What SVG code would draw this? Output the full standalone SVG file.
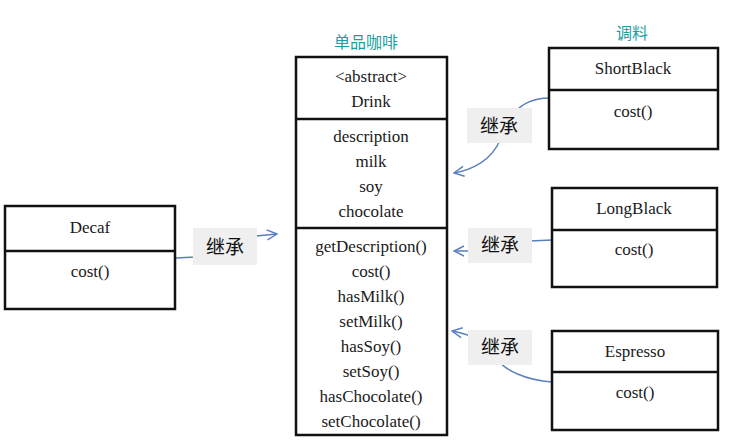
<svg xmlns="http://www.w3.org/2000/svg" width="732" height="444" viewBox="0 0 732 444">
<style>
.box{fill:#fff;stroke:#111;stroke-width:2.5}
.div{stroke:#111;stroke-width:2.5}
.t{font-family:'Liberation Serif','Times New Roman',serif;font-size:17px;fill:#1a1a1a;text-anchor:middle}
.title{font-family:'Noto Sans CJK SC','Noto Sans',sans-serif;font-size:16px;fill:#1aa0a0;text-anchor:middle}
.lblbg{fill:#efefef}
.lbl{font-family:'Noto Sans CJK SC','Noto Sans',sans-serif;font-size:19px;fill:#111;text-anchor:middle}
.conn{fill:none;stroke:#5a7fc0;stroke-width:1.4}
</style>
<defs>
<marker id="arr" viewBox="0 0 12 12" refX="11" refY="6" markerWidth="12" markerHeight="12" markerUnits="userSpaceOnUse" orient="auto">
<path d="M1,1 L11,6 L1,11" fill="none" stroke="#5a7fc0" stroke-width="1.4"/>
</marker>
</defs>
<rect width="732" height="444" fill="#fff"/>

<g id="connectors">
<path class="conn" d="M176,258 L195,257 L256,236 L277,234" marker-end="url(#arr)"/>
<path class="conn" d="M549,98 C515,98 505,125 500,140 C492,160 472,170 454,173" marker-end="url(#arr)"/>
<path class="conn" d="M552,240 L530,241 L468,251 L454,251" marker-end="url(#arr)"/>
<path class="conn" d="M552,382 C525,380 505,370 498,360 C490,345 475,335 452,331" marker-end="url(#arr)"/>
</g>

<g id="label-decaf">
<rect class="lblbg" x="193" y="228" width="64" height="37"/>
<text class="lbl" x="225" y="254">继承</text>
</g>
<g id="label-shortblack">
<rect class="lblbg" x="467" y="108" width="65" height="35"/>
<text class="lbl" x="499" y="133">继承</text>
</g>
<g id="label-longblack">
<rect class="lblbg" x="468" y="228" width="64" height="35"/>
<text class="lbl" x="500" y="252">继承</text>
</g>
<g id="label-espresso">
<rect class="lblbg" x="468" y="330" width="64" height="35"/>
<text class="lbl" x="500" y="354">继承</text>
</g>

<g id="title-single">
<text class="title" x="366" y="48">单品咖啡</text>
</g>
<g id="title-condiment">
<text class="title" x="632" y="39">调料</text>
</g>

<g id="drink">
<rect class="box" x="296" y="57" width="151" height="378"/>
<line class="div" x1="296" y1="119" x2="447" y2="119"/>
<line class="div" x1="296" y1="228" x2="447" y2="228"/>
<text class="t" x="371" y="82">&lt;abstract&gt;</text>
<text class="t" x="371" y="107">Drink</text>
<text class="t" x="371" y="142">description</text>
<text class="t" x="371" y="167">milk</text>
<text class="t" x="371" y="192">soy</text>
<text class="t" x="371" y="217">chocolate</text>
<text class="t" x="371" y="252">getDescription()</text>
<text class="t" x="371" y="277">cost()</text>
<text class="t" x="371" y="302">hasMilk()</text>
<text class="t" x="371" y="327">setMilk()</text>
<text class="t" x="371" y="352">hasSoy()</text>
<text class="t" x="371" y="377">setSoy()</text>
<text class="t" x="371" y="402">hasChocolate()</text>
<text class="t" x="371" y="427">setChocolate()</text>
</g>

<g id="decaf">
<rect class="box" x="5" y="206" width="170" height="103"/>
<line class="div" x1="5" y1="251" x2="175" y2="251"/>
<text class="t" x="90" y="233">Decaf</text>
<text class="t" x="90" y="277">cost()</text>
</g>

<g id="shortblack">
<rect class="box" x="549" y="48" width="169" height="101"/>
<line class="div" x1="549" y1="90" x2="718" y2="90"/>
<text class="t" x="633" y="74">ShortBlack</text>
<text class="t" x="633" y="117">cost()</text>
</g>

<g id="longblack">
<rect class="box" x="552" y="188" width="165" height="99"/>
<line class="div" x1="552" y1="230" x2="717" y2="230"/>
<text class="t" x="634" y="214">LongBlack</text>
<text class="t" x="634" y="255">cost()</text>
</g>

<g id="espresso">
<rect class="box" x="552" y="331" width="166" height="99"/>
<line class="div" x1="552" y1="372" x2="718" y2="372"/>
<text class="t" x="635" y="357">Espresso</text>
<text class="t" x="635" y="398">cost()</text>
</g>
</svg>
